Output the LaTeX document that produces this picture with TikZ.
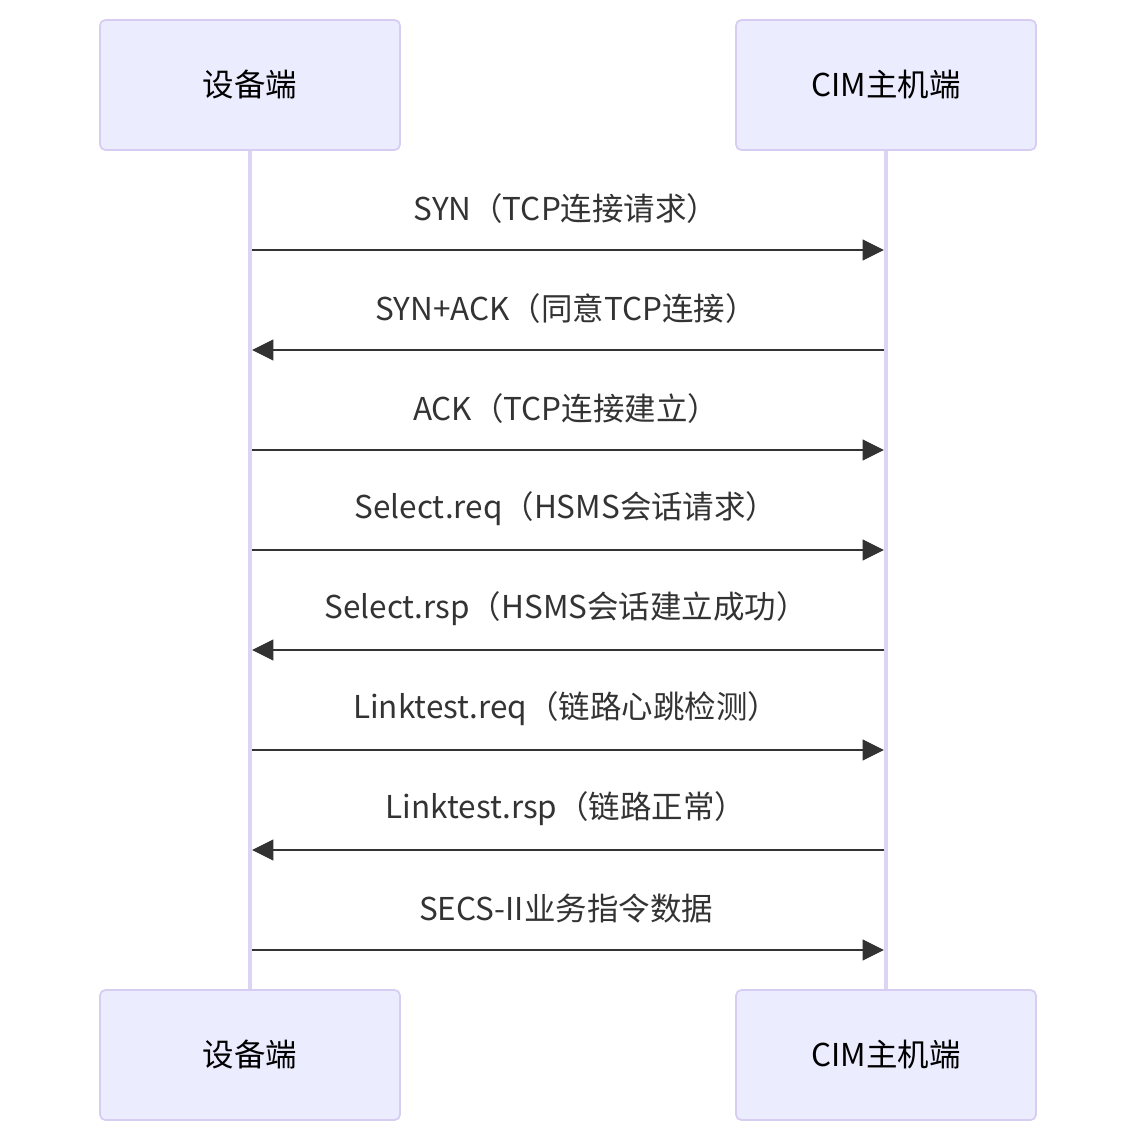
\documentclass[tikz,border=0pt]{standalone}
\usepackage{fontspec}
\setmainfont{Noto Sans CJK SC}
\usetikzlibrary{arrows.meta,positioning}
\definecolor{actorfill}{HTML}{ECECFF}
\definecolor{actorline}{HTML}{D7CDF2}
\definecolor{lifeline}{HTML}{DDD4F3}
\definecolor{msgdark}{HTML}{333333}
\tikzset{
  actor/.style={draw=actorline, fill=actorfill, rounded corners=4pt,
    minimum width=225pt, minimum height=97.5pt, inner sep=0pt, line width=1.3pt,
    font=\fontsize{23.6}{28}\selectfont, text=black},
  life/.style={draw=lifeline, line width=2.3pt},
  msg/.style={-{Triangle[length=16pt, width=15.5pt]}, line width=1.6pt, color=msgdark},
  msglabel/.style={font=\fontsize{23.6}{28}\selectfont, text=msgdark, inner sep=0pt},
}
\begin{document}
\begin{tikzpicture}[x=0.75pt,y=-0.75pt]
  \useasboundingbox (0,0) rectangle (1136,1142);
  % lifelines go under the actor boxes
  \coordinate (devtop) at (250,150);
  \coordinate (devbot) at (250,990);
  \coordinate (hosttop) at (886,150);
  \coordinate (hostbot) at (886,990);
  \draw[life] (devtop) -- (devbot);
  \draw[life] (hosttop) -- (hostbot);
  % actors, top and bottom
  \node[actor] (devA) at (250,85) {设备端};
  \node[actor] (hostA) at (886,85) {CIM主机端};
  \node[actor] (devB) at (250,1055) {设备端};
  \node[actor] (hostB) at (886,1055) {CIM主机端};
  % messages: row / direction (1 = to host, 0 = to device) / text
  \foreach \i/\dir/\txt in {1/1/{SYN（TCP连接请求）},
                            2/0/{SYN+ACK（同意TCP连接）},
                            3/1/{ACK（TCP连接建立）},
                            4/1/{Select.req（HSMS会话请求）},
                            5/0/{Select.rsp（HSMS会话建立成功）},
                            6/1/{Linktest.req（链路心跳检测）},
                            7/0/{Linktest.rsp（链路正常）},
                            8/1/{SECS-II业务指令数据}} {
    \pgfmathsetmacro{\yy}{150+100*\i}
    \coordinate (d\i) at (252,\yy);
    \coordinate (h\i) at (884,\yy);
    \node[msglabel] (m\i) at (566,\yy-41) {\txt};
    \ifnum\dir=1
      \draw[msg] (d\i) -- (h\i);
    \else
      \draw[msg] (h\i) -- (d\i);
    \fi
  }
\end{tikzpicture}
\end{document}
